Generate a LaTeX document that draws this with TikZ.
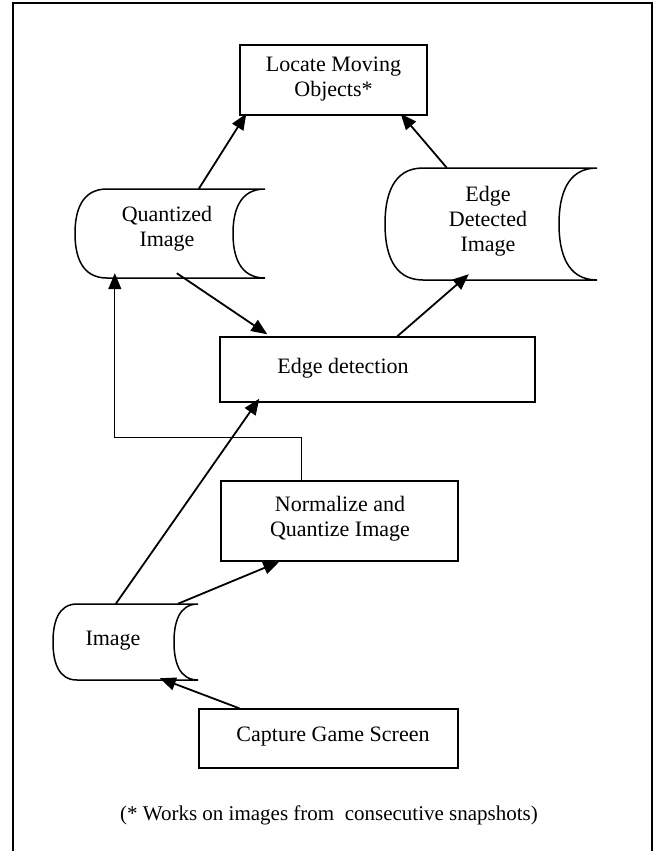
\documentclass[tikz,border=0pt]{standalone}
\usepackage{fontspec}
\setmainfont{Liberation Serif}
\usetikzlibrary{arrows.meta}
\newcommand{\storedshape}[5]{% L T R B d
  \draw[plain] ({#1+#5},#2) -- (#3,#2)
    .. controls ({#3-0.8*#5},#2) and ({#3-#5},{#2+0.25*(#4-#2)}) .. ({#3-#5},{0.5*(#2+#4)})
    .. controls ({#3-#5},{#4-0.25*(#4-#2)}) and ({#3-0.8*#5},#4) .. (#3,#4)
    -- ({#1+#5},#4)
    .. controls ({#1+0.2*#5},#4) and (#1,{#4-0.25*(#4-#2)}) .. (#1,{0.5*(#2+#4)})
    .. controls (#1,{#2+0.25*(#4-#2)}) and ({#1+0.2*#5},#2) .. cycle;}
\begin{document}
\begin{tikzpicture}[x=1pt,y=-1pt,
  txt/.style={inner sep=0pt, align=center, font=\fontsize{22}{25}\selectfont},
  box/.style={inner sep=0pt, draw, line width=1.4pt},
  frame/.style={inner sep=0pt, draw=none},
  plain/.style={line width=1.5pt},
  conn/.style={line width=1.8pt, -{Triangle[length=16pt,width=13pt]}},
  elbow/.style={line width=1.2pt, -{Triangle[length=16pt,width=13pt]}},
]
\useasboundingbox (0,0) rectangle (654,851);
\draw[line width=1.8pt] (13,870) -- (13,3) -- (652,3) -- (652,870);

% process boxes
\node[box, minimum width=187pt, minimum height=70pt] (locate) at (333.5,80) {};
\node[txt] (locatet) at (333.5,79) {Locate Moving\\Objects*};
\node[box, minimum width=315pt, minimum height=65pt] (ed) at (377.5,369.5) {};
\node[txt] (edt) at (343,368) {Edge detection};
\node[box, minimum width=237pt, minimum height=80pt] (norm) at (339.5,521) {};
\node[txt] (normt) at (340,519) {Normalize and\\Quantize Image};
\node[box, minimum width=259pt, minimum height=59pt] (cap) at (328.5,738.5) {};
\node[txt] (capt) at (333,737) {Capture Game Screen};

% stored data shapes
\node[frame, minimum width=190pt, minimum height=89pt] (q) at (170,233.5) {};
\storedshape{75}{189}{265}{278}{32}
\node[txt] (qt) at (167,229) {Quantized\\Image};

\node[frame, minimum width=212pt, minimum height=112pt] (e) at (491,224) {};
\storedshape{385}{168}{597}{280}{38}
\node[txt] (et) at (488,221) {Edge\\Detected\\Image};

\node[frame, minimum width=145pt, minimum height=76pt] (im) at (125.5,642) {};
\storedshape{53}{604}{198}{680}{24}
\node[txt] (imt) at (113,641) {Image};

% footnote
\node[txt, font=\fontsize{21}{25}\selectfont] (note) at (329,815) {(* Works on images from\ \ consecutive snapshots)};

% connectors
\draw[conn] ([xshift=124pt]q.north west) -- ([xshift=7pt,yshift=2pt]locate.south west);
\draw[conn] ([xshift=62pt]e.north west) -- ([xshift=-27pt,yshift=2pt]locate.south east);
\draw[conn] ([xshift=102pt,yshift=5pt]q.south west) -- ([xshift=48pt,yshift=2pt]ed.north west);
\draw[conn] ([xshift=178pt]ed.north west) -- ([xshift=84pt,yshift=6pt]e.south west);
\draw[elbow] ([xshift=81pt]norm.north west) -- ++(0,-43) -| ([xshift=40pt,yshift=5pt]q.south west);
\draw[conn] ([xshift=63pt]im.north west) -- ([xshift=40pt,yshift=4pt]ed.south west);
\draw[conn] ([xshift=125pt]im.north west) -- ([xshift=59pt]norm.south west);
\draw[conn] ([xshift=41pt]cap.north west) -- ([xshift=107pt,yshift=2pt]im.south west);
\end{tikzpicture}
\end{document}
